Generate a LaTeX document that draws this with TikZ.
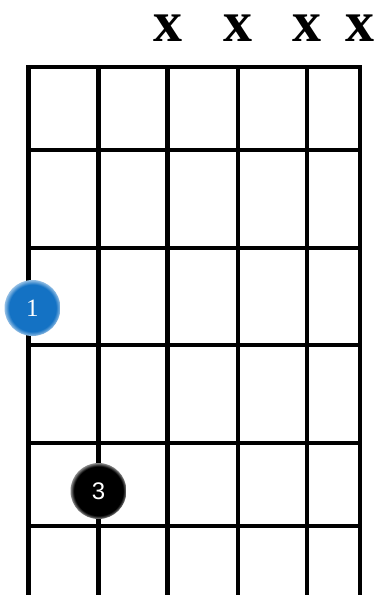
\documentclass[tikz,border=0pt]{standalone}
\usepackage{fontspec}
\setmainfont{Liberation Serif}
\newfontfamily\fingersans{Liberation Sans}
\usepackage{tikz}
\usetikzlibrary{positioning}
\definecolor{dotblue}{RGB}{20,114,196}
\pgfdeclareradialshading{bluedot}{\pgfpoint{0bp}{0bp}}{color(0bp)=(dotblue); color(21bp)=(dotblue); color(25bp)=(dotblue!45!white); color(50bp)=(white)}
\pgfdeclareradialshading{blackdot}{\pgfpoint{0bp}{0bp}}{color(0bp)=(black); color(22bp)=(black); color(25bp)=(black!45!white); color(50bp)=(white)}

\begin{document}
\begin{tikzpicture}[x=1pt, y=-1pt,
    fret/.style={line width=4.8pt, line cap=rect},
    mute/.style={font=\bfseries\fontsize{58}{58}\selectfont, inner sep=0pt},
    finger/.style={circle, minimum size=56pt, inner sep=0pt, text=white}]
    \useasboundingbox (0,0) rectangle (379,595);

    % Corde
    \foreach \sx [count=\i] in {28.5,98.5,167.5,238,307,360}
        \coordinate (s\i) at (\sx,67);
    \foreach \i in {1,...,6}
        \draw[fret] (s\i) -- ++(0,528);

    % Tasti
    \foreach \fy in {67,150,248,345,443,526}
        \draw[fret] (28.5,\fy) -- (360,\fy);

    % Corde non suonate
    \foreach \i in {3,...,6}
        \node[mute] (x\i) at ([yshift=39pt]s\i) {x};

    % Dita
    \node[finger, shading=bluedot, font=\fontsize{25}{25}\selectfont] (f1) at (32.5,308) {1};
    \node[finger, shading=blackdot, font=\fingersans\fontsize{24}{24}\selectfont] (f3) at (98.5,491) {3};
\end{tikzpicture}
\end{document}
